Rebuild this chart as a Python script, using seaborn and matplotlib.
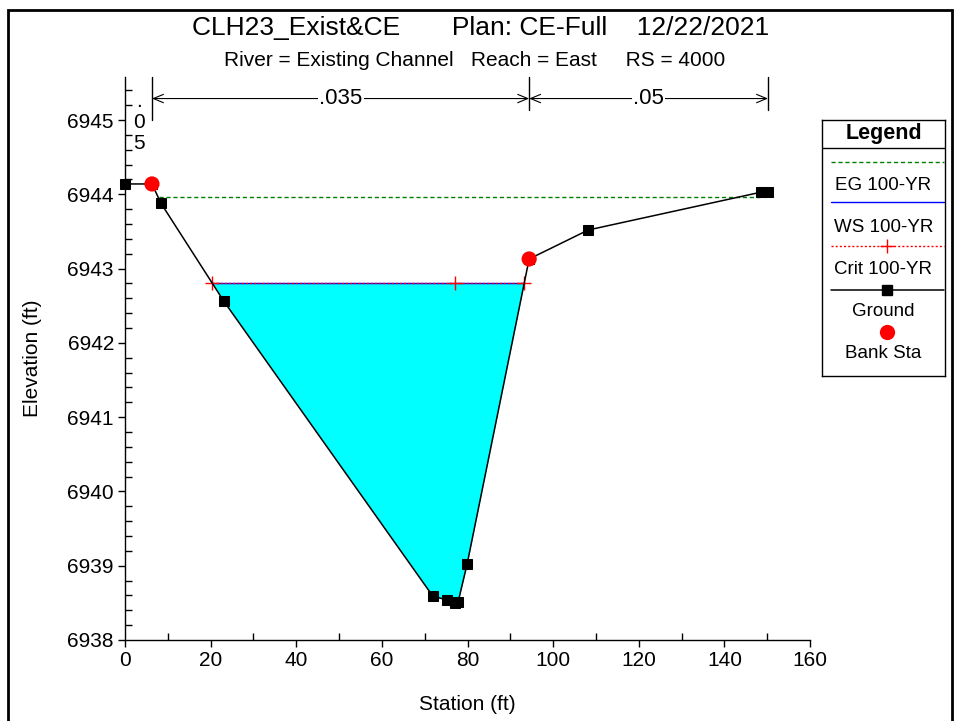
import numpy as np
import pandas as pd
import matplotlib.pyplot as plt
import seaborn as sns
from matplotlib.patches import Rectangle
from matplotlib.ticker import MultipleLocator

# ground profile
ground_sta = [0, 6.3, 8.4, 23.1, 71.9, 75.2, 77.1, 77.8, 79.9, 94.4, 108.2, 148.6, 150.2]
ground_elev = [6944.14, 6944.14, 6943.88, 6942.56, 6938.59, 6938.54, 6938.50, 6938.51,
               6939.02, 6943.13, 6943.52, 6944.03, 6944.03]
bank_sta = [6.3, 94.4]
bank_elev = [6944.14, 6943.13]
ws_sta = [20.4, 93.2]
ws_elev = [6942.80, 6942.80]
crit_sta = [20.4, 77.1, 93.2]
crit_elev = [6942.80, 6942.80, 6942.80]
eg_sta = [8.0, 148.4]
eg_elev = [6943.97, 6943.97]
n_breaks = [6.3, 94.4, 150.2]
n_vals = [".05", ".035", ".05"]

sns.set_theme(style="white")
plt.rcParams['font.family'] = ['Liberation Sans', 'DejaVu Sans']
plt.rcParams['text.color'] = 'black'
plt.rcParams['axes.labelcolor'] = 'black'
plt.rcParams['xtick.color'] = 'black'
plt.rcParams['ytick.color'] = 'black'

fig = plt.figure(figsize=(9.55, 7.21), dpi=100)
ax = fig.add_axes([125/955, 1-640/721, 685/955, (640-77)/721])

gx = np.array(ground_sta)
gy = np.array(ground_elev)
ax.fill_between(gx, gy, ws_elev[0], where=gy < ws_elev[0], interpolate=True,
                color="#00ffff", lw=0, zorder=1)

ground = pd.DataFrame({"sta": ground_sta, "elev": ground_elev})
sns.lineplot(data=ground, x="sta", y="elev", ax=ax, color="black", linewidth=1.1,
             marker="s", markersize=6.5, markeredgecolor="black", sort=False,
             zorder=3, clip_on=False)
sns.lineplot(x=eg_sta, y=eg_elev, ax=ax, color="#008000", linewidth=1,
             zorder=2).lines[-1].set_dashes([3, 2])
sns.lineplot(x=ws_sta, y=ws_elev, ax=ax, color="#0000ff", linewidth=1, zorder=2)
crit = sns.lineplot(x=crit_sta, y=crit_elev, ax=ax, color="red", linewidth=1,
                    zorder=2.5, marker="+", markersize=10, markeredgewidth=1,
                    markeredgecolor="red").lines[-1]
crit.set_dashes([1.5, 1.5])
sns.scatterplot(x=bank_sta, y=bank_elev, ax=ax, color="red", s=120, edgecolor="none",
                zorder=4, clip_on=False)

ax.set_xlim(0, 160)
ax.set_ylim(6938, 6945.58)
ax.xaxis.set_major_locator(MultipleLocator(20))
ax.xaxis.set_minor_locator(MultipleLocator(10))
ax.yaxis.set_major_locator(MultipleLocator(1))
ax.yaxis.set_minor_locator(MultipleLocator(0.2))
ax.tick_params(which="major", direction="out", length=5, width=1, labelsize=15,
               left=True, bottom=True, pad=3)
ax.tick_params(which="minor", direction="in", length=5, width=1,
               left=True, bottom=True)
for s in ["top", "right"]:
    ax.spines[s].set_visible(False)
for s in ["left", "bottom"]:
    ax.spines[s].set_color("black")
    ax.spines[s].set_linewidth(1)
ax.set_xlabel("Station (ft)", fontsize=15, labelpad=18)
ax.set_ylabel("Elevation (ft)", fontsize=15, labelpad=18)

# n values
arrow_y = 6945.29
for x in n_breaks[1:]:
    ax.plot([x, x], [6945.13, 6945.58], color="black", lw=1, clip_on=False)
ax.plot([n_breaks[0]] * 2, [6945.0, 6945.58], color="black", lw=1, clip_on=False)
for x0, x1, lab in zip(n_breaks[:-1], n_breaks[1:], n_vals[1:]):
    ax.annotate("", xy=(x0, arrow_y), xytext=(x1, arrow_y),
                arrowprops=dict(arrowstyle="<->,head_length=0.6,head_width=0.25",
                                color="black", lw=0.8, shrinkA=0, shrinkB=0))
    ax.text((x0 + x1) / 2, arrow_y, lab, ha="center", va="center", fontsize=16,
            bbox=dict(fc="white", ec="none", pad=1))
ax.text(n_breaks[0] / 2 + 0.2, 6944.97, "\n".join(n_vals[0]), ha="center", va="center",
        fontsize=15, linespacing=1.15)

fig.text(0.503, 1-28/721, "CLH23_Exist&CE       Plan: CE-Full    12/22/2021",
         ha="center", va="center", fontsize=19)
fig.text(0.497, 1-60/721, "River = Existing Channel   Reach = East     RS = 4000",
         ha="center", va="center", fontsize=15)

# legend box
lg = fig.add_axes([822/955, 1-376/721, 123/955, 256/721])
lg.set_xlim(0, 1)
lg.set_ylim(376, 120)
lg.set_xticks([])
lg.set_yticks([])
for s in lg.spines.values():
    s.set_color("black")
    s.set_linewidth(1)
lg.axhline(148, color="black", lw=1)
lg.text(0.5, 133, "Legend", ha="center", va="center", fontsize=15.5, fontweight="bold")
lg.plot([0.07, 0.99], [162, 162], color="#008000", lw=1, dashes=[3, 2])
lg.plot([0.07, 0.99], [202, 202], color="#0000ff", lw=1)
lg.plot([0.07, 0.99], [246, 246], color="red", lw=1, dashes=[1.5, 1.5])
lg.plot([0.53], [246], color="red", marker="+", markersize=10, mew=1)
lg.plot([0.07, 0.99], [290, 290], color="black", lw=1.1)
lg.plot([0.53], [290], color="black", marker="s", markersize=6.5)
lg.plot([0.53], [332], color="red", marker="o", markersize=11, mec="none")
for y, lab in zip([186, 227, 269, 311, 354],
                  ["EG 100-YR", "WS 100-YR", "Crit 100-YR", "Ground", "Bank Sta"]):
    lg.text(0.5, y, lab, ha="center", va="center", fontsize=13.5)

fig.patches.append(Rectangle((8/955, -0.02), 944/955, 1.02 - 10/721,
                             transform=fig.transFigure, fill=False, ec="black", lw=2))

fig.savefig("out.png", dpi=100, facecolor="white")
